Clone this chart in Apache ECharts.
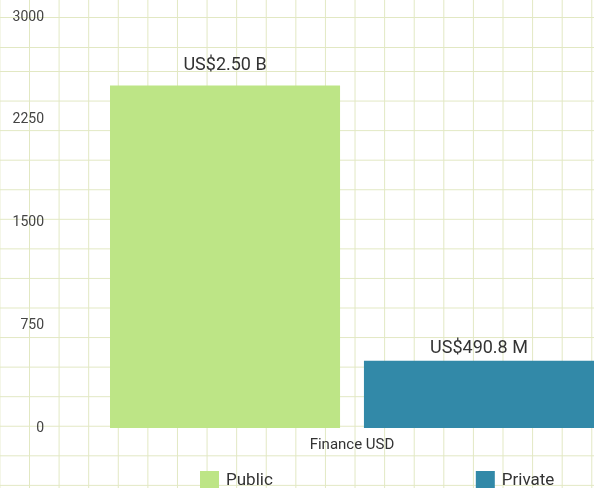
<!DOCTYPE html>
<html>
<head>
<meta charset="utf-8">
<script src="https://cdn.jsdelivr.net/npm/echarts@6/dist/echarts.min.js"></script>
<style>
  html, body { margin: 0; padding: 0; background: #fff; }
  #wrap { position: relative; width: 594px; height: 488px; overflow: hidden; }
  .paper { position: absolute; left: 0; width: 594px; }
  /* graph paper backdrop */
  #paperTop {
    top: 0; height: 60px;
    background-image:
      linear-gradient(to right, #e2e8c3 0, #e2e8c3 1px, transparent 1px),
      linear-gradient(to bottom, #e2e8c3 0, #e2e8c3 1px, transparent 1px);
    background-size: 29.6px 100%, 100% 30px;
    background-position: 29px 0, 0 17px;
  }
  #paperBody {
    top: 60px; height: 428px;
    background-image:
      linear-gradient(to right, #e2e8c3 0, #e2e8c3 1px, transparent 1px),
      linear-gradient(to bottom, #e2e8c3 0, #e2e8c3 1px, transparent 1px);
    background-size: 29.6px 100%, 100% 29.57px;
    background-position: 29px 0, 0 11px;
  }
  #main { position: absolute; left: 0; top: 0; width: 594px; height: 488px; }
</style>
</head>
<body>
<div id="wrap">
  <div class="paper" id="paperTop"></div>
  <div class="paper" id="paperBody"></div>
  <div id="main"></div>
</div>
<script>
  // data
  var categories = ['Finance USD'];
  var seriesNames = ['Public', 'Private'];
  var publicValues = [2500];
  var privateValues = [490.8];
  var valueLabels = ['US$2.50 B', 'US$490.8 M'];
  var yTicks = [0, 750, 1500, 2250, 3000];
  var colors = ['#bde586', '#3289a8'];

  var myChart = echarts.init(document.getElementById('main'));

  myChart.setOption({
    backgroundColor: 'transparent',
    animation: false,
    textStyle: {fontFamily: 'Roboto'},
    // plot runs past the right edge, so the category band is shifted and the y axis pulled back
    grid: {left: 110, right: 0, top: 17, bottom: 60, containLabel: false},
    legend: {
      data: seriesNames,
      left: 195,
      top: 466,
      itemWidth: 19,
      itemHeight: 19,
      itemGap: 203,
      icon: 'rect',
      textStyle: {fontSize: 17, color: '#333', padding: [0, 0, 0, 2]}
    },
    xAxis: {
      type: 'category',
      data: categories,
      axisLine: {show: false},
      axisTick: {show: false},
      splitLine: {show: false},
      axisLabel: {fontSize: 15, color: '#333', margin: 10}
    },
    yAxis: {
      type: 'value',
      offset: 58,
      min: yTicks[0],
      max: yTicks[yTicks.length - 1],
      interval: yTicks[1] - yTicks[0],
      axisLine: {show: false},
      axisTick: {show: false},
      splitLine: {show: false},
      axisLabel: {
        fontSize: 14, color: '#444', margin: 8,
        formatter: function (v) { return String(v); }
      }
    },
    series: [{
      name: seriesNames[0],
      type: 'bar',
      data: publicValues,
      barWidth: 232,
      barGap: '10.3%',
      itemStyle: {color: colors[0]},
      label: {
        show: true,
        position: 'top',
        distance: 11,
        fontSize: 18,
        color: '#333',
        formatter: function () { return valueLabels[0]; }
      }
    }, {
      name: seriesNames[1],
      type: 'bar',
      data: privateValues,
      barWidth: 232,
      itemStyle: {color: colors[1]},
      label: {
        show: true,
        position: 'top',
        distance: 3,
        fontSize: 18,
        color: '#333',
        formatter: function () { return valueLabels[1]; }
      }
    }]
  });
</script>
</body>
</html>
